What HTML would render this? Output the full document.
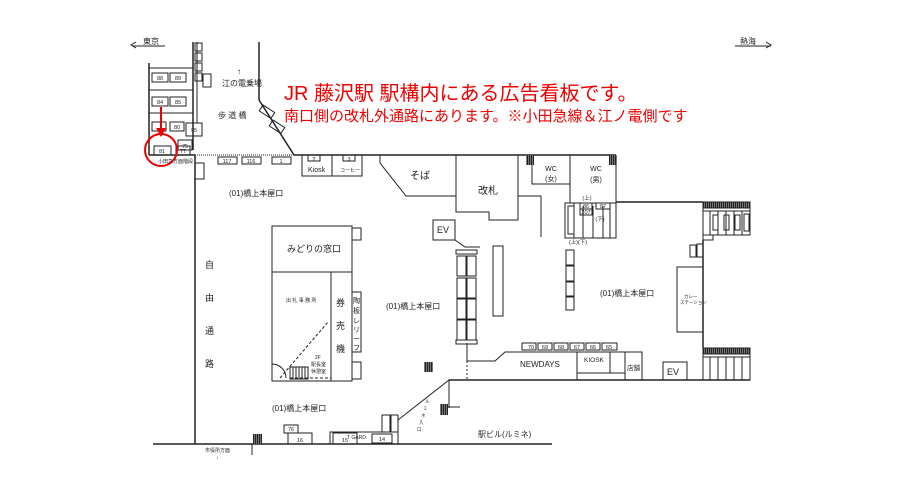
<!DOCTYPE html>
<html><head><meta charset="utf-8"><style>
html,body{margin:0;padding:0;background:#fff;width:919px;height:491px;overflow:hidden}
svg{display:block;font-family:"Liberation Sans","Noto Sans CJK JP",sans-serif}
</style></head><body>
<svg width="919" height="491" viewBox="0 0 919 491" xmlns="http://www.w3.org/2000/svg">
<defs>
<pattern id="h" width="2" height="2" patternUnits="userSpaceOnUse"><rect width="2" height="2" fill="#222"/><rect width="1" height="2" fill="#777"/></pattern>
</defs>
<g fill="none" stroke="#222" stroke-width="1">
<!-- Tokyo / Atami -->
<line x1="132" y1="46" x2="165" y2="46"/><polyline points="136,42 131,45 136,48"/>
<line x1="735" y1="46" x2="771" y2="46"/><polyline points="766,42 771,45 766,48"/>
<!-- left stairs -->
<line x1="149" y1="63" x2="149" y2="155" stroke-width="1.5"/>
<line x1="149" y1="68" x2="193" y2="68"/><line x1="149" y1="90" x2="193" y2="90"/><line x1="149" y1="113" x2="193" y2="113"/>
<line x1="193" y1="42" x2="193" y2="150" stroke-width="1.5"/><line x1="197" y1="42" x2="197" y2="123"/>
<rect x="152" y="73" width="16" height="9"/><rect x="170" y="73" width="16" height="9"/>
<rect x="152" y="97" width="16" height="9"/><rect x="170" y="97" width="16" height="9"/>
<rect x="170" y="122" width="14" height="9"/><rect x="152" y="122" width="14" height="9"/>
<rect x="186" y="123" width="16" height="13"/><rect x="178" y="140" width="14" height="10"/>
<rect x="154" y="146" width="17" height="9"/><rect x="176" y="146" width="14" height="9"/>
<rect x="195" y="43" width="7" height="8"/><rect x="195" y="53" width="7" height="8"/><rect x="195" y="63" width="7" height="8"/><rect x="195" y="73" width="7" height="8"/>
<rect x="203" y="74" width="8" height="13"/>
<!-- main top line -->
<line x1="149" y1="155" x2="195" y2="155" stroke-width="1.5"/>
<line x1="195" y1="155" x2="294" y2="155" stroke-dasharray="1,1"/>
<line x1="294" y1="155" x2="616" y2="155" stroke-width="1.5"/>
<line x1="259" y1="42" x2="259" y2="100" stroke-width="1.5"/>
<line x1="259" y1="100" x2="294" y2="155" stroke-width="1.5"/>
<rect x="218" y="157" width="19" height="7"/><rect x="242" y="157" width="19" height="7"/><rect x="272" y="157" width="19" height="7"/>
<!-- free passage wall -->
<line x1="195" y1="155" x2="195" y2="444" stroke-width="1.5"/>
<rect x="195" y="163" width="9" height="16"/>
<!-- kiosk/coffee -->
<rect x="302" y="155" width="30" height="21"/><rect x="332" y="155" width="30" height="21"/>
<rect x="308" y="155" width="12" height="6"/><rect x="343" y="155" width="12" height="6"/>
<!-- soba, kaisatsu -->
<polyline points="380,155 380,163 406,196 456,196"/>
<polyline points="456,155 456,212 489,212 489,220 518,220 518,155"/>
<polyline points="518,196 541,196 541,237"/>
<rect x="532" y="155" width="38" height="29"/>
<polyline points="570,155 570,203 616,203 616,155"/>
<line x1="616" y1="202" x2="703" y2="202" stroke-width="1.5"/>
<!-- stairs center -->
<rect x="565" y="203" width="51" height="35"/>
<line x1="574" y1="203" x2="574" y2="238"/><line x1="583" y1="206" x2="583" y2="238"/><line x1="593" y1="206" x2="593" y2="238"/><line x1="603" y1="206" x2="603" y2="238"/><line x1="610" y1="206" x2="610" y2="238"/>
<rect x="568" y="206" width="6" height="28"/><rect x="580" y="203" width="12" height="6"/><rect x="580" y="209" width="12" height="6"/><rect x="596" y="203" width="14" height="6"/>
<!-- right stairs -->
<rect x="703" y="202" width="47" height="33"/>
<line x1="703" y1="208" x2="750" y2="208"/><line x1="703" y1="211" x2="750" y2="211"/>
<rect x="703" y="202" width="47" height="6" fill="url(#h)"/>
<line x1="710" y1="211" x2="710" y2="235"/><line x1="718" y1="211" x2="718" y2="235"/><line x1="726" y1="211" x2="726" y2="235"/><line x1="734" y1="211" x2="734" y2="235"/><line x1="742" y1="211" x2="742" y2="235"/>
<rect x="713" y="215" width="5" height="15"/><rect x="724" y="215" width="5" height="15"/><rect x="735" y="215" width="5" height="15"/><rect x="744" y="214" width="5" height="17"/>
<rect x="703" y="235" width="10" height="5"/>
<line x1="703" y1="240" x2="703" y2="348" stroke-width="1.5"/>
<rect x="690" y="245" width="6" height="12"/><rect x="697" y="244" width="6" height="13"/>
<rect x="677" y="267" width="26" height="65"/>
<rect x="703" y="348" width="47" height="32"/>
<rect x="703" y="348" width="47" height="6" fill="url(#h)"/>
<line x1="703" y1="357" x2="750" y2="357"/>
<line x1="710" y1="357" x2="710" y2="380"/><line x1="718" y1="357" x2="718" y2="380"/><line x1="726" y1="357" x2="726" y2="380"/><line x1="734" y1="357" x2="734" y2="380"/><line x1="742" y1="357" x2="742" y2="380"/>
<rect x="663" y="362" width="24" height="18"/>
<!-- bottom corridor -->
<line x1="449" y1="380" x2="750" y2="380" stroke-width="1.5"/>
<rect x="625" y="352" width="17" height="28"/>
<polyline points="467,361 495,361 505,352 625,352"/>
<polyline points="577,352 577,373 610,373 610,352"/>
<line x1="577" y1="373" x2="625" y2="373"/>
<line x1="577" y1="373" x2="577" y2="380"/>
<rect x="522" y="343" width="14" height="7"/><rect x="538" y="343" width="14" height="7"/><rect x="554" y="343" width="14" height="7"/><rect x="570" y="343" width="14" height="7"/><rect x="586" y="343" width="14" height="7"/><rect x="602" y="343" width="15" height="7"/>
<line x1="467" y1="343" x2="467" y2="361"/><line x1="467" y1="361" x2="467" y2="380" stroke-dasharray="2,2"/>
<!-- EV + columns -->
<rect x="433" y="220" width="22" height="20"/>
<polyline points="455,240 465,247 480,247"/>
<rect x="456" y="250" width="21" height="4"/>
<rect x="457" y="256" width="9" height="20"/><rect x="467" y="256" width="9" height="20"/>
<rect x="457" y="278" width="9" height="20"/><rect x="467" y="278" width="9" height="20"/>
<rect x="457" y="299" width="9" height="20"/><rect x="467" y="299" width="9" height="20"/>
<rect x="457" y="320" width="9" height="20"/><rect x="467" y="320" width="9" height="20"/>
<rect x="456" y="340" width="21" height="4"/>
<rect x="493" y="246" width="10" height="70"/>
<rect x="566" y="250" width="8" height="15"/><rect x="566" y="266" width="8" height="15"/><rect x="566" y="282" width="8" height="15"/><rect x="566" y="296" width="8" height="14"/>
<!-- midori -->
<rect x="272" y="226" width="80" height="155"/>
<line x1="272" y1="272" x2="352" y2="272"/>
<line x1="331" y1="272" x2="331" y2="381"/>
<rect x="352" y="228" width="9" height="12"/><rect x="352" y="292" width="9" height="60"/><rect x="352" y="362" width="9" height="17"/>
<line x1="280" y1="378" x2="328" y2="322" stroke-dasharray="3,2"/>
<line x1="290" y1="378" x2="331" y2="378" stroke-dasharray="3,2"/>
<path d="M272,364 A14,14 0 0 1 286,378"/>
<rect x="290" y="367" width="18" height="12"/>
<line x1="293" y1="367" x2="293" y2="379"/><line x1="296" y1="367" x2="296" y2="379"/><line x1="299" y1="367" x2="299" y2="379"/><line x1="302" y1="367" x2="302" y2="379"/><line x1="305" y1="367" x2="305" y2="379"/>
<!-- bottom -->
<line x1="153" y1="444" x2="552" y2="444" stroke-width="1.5"/>
<line x1="252" y1="444" x2="252" y2="455"/>
<polyline points="398,420 449,380 449,408"/>
<line x1="448" y1="407" x2="460" y2="407"/>
<line x1="398" y1="415" x2="398" y2="444"/>
<rect x="284" y="425" width="14" height="8"/><rect x="288" y="433" width="24" height="11"/>
<polyline points="330,444 330,432 398,432"/>
<rect x="333" y="433" width="24" height="11"/><rect x="372" y="434" width="20" height="9"/>
<rect x="382" y="415" width="8" height="17"/><rect x="391" y="415" width="7" height="17"/>
<!-- 83/80 diag boxes -->
<rect x="0" y="0" width="14" height="7" transform="translate(263,105) rotate(33)"/>
<rect x="0" y="0" width="14" height="7" transform="translate(273,120) rotate(33)"/>
</g>
<!-- hatched black squares -->
<g fill="url(#h)">
<rect x="526" y="155" width="8" height="10"/><rect x="609" y="155" width="8" height="10"/>
<rect x="424" y="362" width="9" height="10"/><rect x="440" y="404" width="8" height="11"/>
<rect x="253" y="434" width="9" height="10"/>
</g>
<!-- red -->
<circle cx="161" cy="150" r="16" fill="none" stroke="#e00" stroke-width="2"/>
<line x1="161" y1="107" x2="161" y2="130" stroke="#e00" stroke-width="2"/>
<polygon points="156,128 166,128 161,137" fill="#e00"/>
<text x="284" y="100" font-size="20" fill="#e00">JR 藤沢駅 駅構内にある広告看板です。</text>
<text x="284" y="121" font-size="15" fill="#e00">南口側の改札外通路にあります。※小田急線＆江ノ電側です</text>
<!-- text -->
<g fill="#222" font-size="8">
<text x="143" y="44">東京</text><text x="740" y="44">熱海</text>
<g font-size="5.5" text-anchor="middle">
<text x="160" y="80">88</text><text x="178" y="80">89</text><text x="160" y="104">84</text><text x="178" y="104">85</text>
<text x="177" y="129">80</text><text x="194" y="132">95</text><text x="185" y="148">75</text><text x="162" y="153">81</text><text x="183" y="153">77</text>
<text x="227" y="163">117</text><text x="251" y="163">116</text><text x="281" y="163">1</text>
<text x="314" y="161">2</text><text x="349" y="161">3</text>
<text x="531" y="349">70</text><text x="545" y="349">69</text><text x="561" y="349">68</text><text x="577" y="349">67</text><text x="593" y="349">66</text><text x="609" y="349">65</text>
<text x="291" y="431">76</text><text x="300" y="442">16</text><text x="345" y="442">15</text><text x="382" y="441">14</text>
<text x="586" y="208">86</text><text x="586" y="214">207</text><text x="603" y="208">87</text>
<text x="587" y="200">(上)</text><text x="600" y="221">(下)</text><text x="578" y="244">(上)(下)</text>
</g>
<text x="158" y="163" font-size="5">小田急方面階段</text>
<text x="237" y="74" font-size="8">↑</text>
<text x="222" y="86">江の電乗場</text>
<text x="218" y="118">歩 道 橋</text>
<text x="229" y="196">(01)橋上本屋口</text>
<text x="386" y="309">(01)橋上本屋口</text>
<text x="600" y="296">(01)橋上本屋口</text>
<text x="272" y="411">(01)橋上本屋口</text>
<text x="308" y="172" font-size="7">Kiosk</text>
<text x="340" y="172" font-size="5">コーヒー</text>
<text x="410" y="179" font-size="10">そば</text>
<text x="478" y="194" font-size="10">改札</text>
<text x="551" y="171" text-anchor="middle" font-size="7">WC</text><text x="551" y="181" text-anchor="middle" font-size="7">(女)</text>
<text x="596" y="171" text-anchor="middle" font-size="7">WC</text><text x="596" y="182" text-anchor="middle" font-size="7">(男)</text>
<text x="437" y="233" font-size="9">EV</text>
<text x="667" y="375" font-size="9">EV</text>
<text x="520" y="367" font-size="8">NEWDAYS</text>
<text x="584" y="362" font-size="6.5">KIOSK</text>
<text x="627" y="370" font-size="6.5">店舗</text>
<text x="684" y="298" font-size="4.5">カレー</text><text x="680" y="304" font-size="4.5">ステーション</text>
<text x="287" y="252" font-size="9">みどりの窓口</text>
<text x="286" y="302" font-size="5">出 札 事 務 所</text>
<text x="336" y="306" font-size="9">券</text><text x="336" y="329" font-size="9">売</text><text x="336" y="352" font-size="9">機</text>
<text x="353" y="303" font-size="7">陶</text><text x="353" y="313" font-size="7">板</text><text x="353" y="323" font-size="7">レ</text><text x="353" y="332" font-size="7">リ</text><text x="353" y="341" font-size="7">ー</text><text x="353" y="350" font-size="7">フ</text>
<text x="315" y="359" font-size="5">2F</text><text x="311" y="366" font-size="5">駅長室</text><text x="311" y="373" font-size="5">休憩室</text>
<text x="205" y="268" font-size="9">自</text><text x="205" y="301" font-size="9">由</text><text x="205" y="334" font-size="9">通</text><text x="205" y="367" font-size="9">路</text>
<text x="478" y="437" font-size="8">駅ビル(ルミネ)</text>
<text x="425" y="403" font-size="4.5">ル</text><text x="423" y="410" font-size="4.5">ミ</text><text x="421" y="417" font-size="4.5">ネ</text><text x="419" y="424" font-size="4.5">入</text><text x="417" y="431" font-size="4.5">口</text>
<text x="347" y="439" font-size="5">T GARD</text>
<text x="205" y="452" font-size="5">市役所方面</text><text x="216" y="459" font-size="5">↓</text>
</g>
</svg>
</body></html>
